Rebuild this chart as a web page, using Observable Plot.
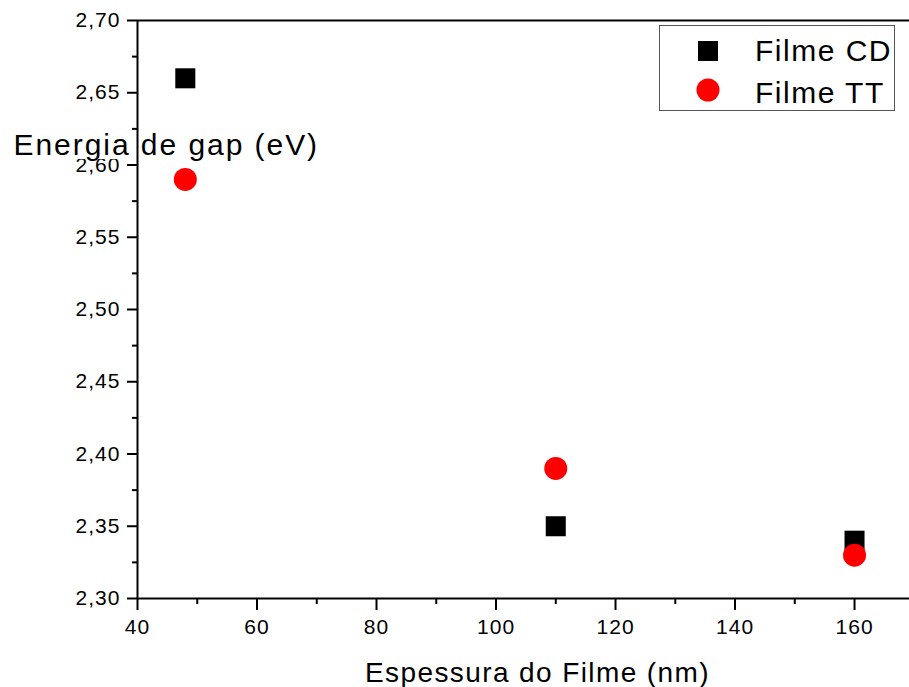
<!DOCTYPE html>
<html>
<head>
<meta charset="utf-8">
<script src="https://cdn.jsdelivr.net/npm/d3@7"></script>
<script src="https://cdn.jsdelivr.net/npm/@observablehq/plot@0.6"></script>
<style>
  html, body { margin: 0; padding: 0; background: #fff; overflow: hidden; }
  #wrap { position: relative; width: 909px; height: 687px; font-family: "Liberation Sans", Arial, sans-serif; }
  #wrap svg text { letter-spacing: 0.05em; }
  #wrap svg g.ylab text { letter-spacing: 0.065em; }
  #legend { position: absolute; left: 659px; top: 25px; width: 234px; height: 84px; border: 1px solid #555; background: #fff; }
  #legend .sym { position: absolute; }
  #legend .lab { position: absolute; left: 95px; font-size: 30px; letter-spacing: 0.05em; color: #000; line-height: 30px; }
</style>
</head>
<body>
<div id="wrap"></div>
<script>
// Data
const thickness = [48, 110, 160];              // Espessura do Filme (nm)
const filmeCD = [2.66, 2.35, 2.34];            // Energia de gap (eV)
const filmeTT = [2.59, 2.39, 2.33];
const seriesNames = ["Filme CD", "Filme TT"];
const xTicks = [40, 60, 80, 100, 120, 140, 160];
const xMinorTicks = [50, 70, 90, 110, 130, 150];
const yTicks = [2.30, 2.35, 2.40, 2.45, 2.50, 2.55, 2.60, 2.65, 2.70];
const yMinorTicks = [2.325, 2.375, 2.425, 2.475, 2.525, 2.575, 2.625, 2.675];
const xLabel = "Espessura do Filme (nm)";
const yLabel = "Energia de gap (eV)";

const cdData = thickness.map((x, i) => ({x, y: filmeCD[i]}));
const ttData = thickness.map((x, i) => ({x, y: filmeTT[i]}));
const fmt = d => d.toFixed(2).replace(".", ",");

const chart = Plot.plot({
  width: 909,
  height: 687,
  marginLeft: 137,
  marginRight: 0,
  marginTop: 20,
  marginBottom: 89,
  style: {fontFamily: "'Liberation Sans', Arial, sans-serif", color: "#000", background: "#fff", overflow: "visible"},
  x: {domain: [40, 169.2]},
  y: {domain: [2.30, 2.70]},
  marks: [
    Plot.axisX({ticks: xMinorTicks, tickSize: 6, strokeWidth: 2, tickFormat: () => "", label: null}),
    Plot.axisX({ticks: xTicks, tickSize: 12, tickPadding: 9, strokeWidth: 2, fontSize: 21, tickFormat: d => String(d), label: null}),
    Plot.axisY({ticks: yMinorTicks, tickSize: 5, strokeWidth: 2, tickFormat: () => "", label: null}),
    Plot.axisY({ticks: yTicks, tickSize: 10, tickPadding: 7, strokeWidth: 2, fontSize: 21, tickFormat: fmt, label: null}),
    Plot.ruleY([2.30], {stroke: "#000", strokeWidth: 2}),
    Plot.ruleY([2.70], {stroke: "#000", strokeWidth: 2}),
    Plot.ruleX([40], {stroke: "#000", strokeWidth: 2, className: "leftaxis"}),
    Plot.dot(cdData, {x: "x", y: "y", symbol: "square", r: 11.3, fill: "#000", stroke: null}),
    Plot.dot(ttData, {x: "x", y: "y", symbol: "circle", r: 11.5, fill: "#ff0000", stroke: null}),
    Plot.text([yLabel], {text: d => d, frameAnchor: "top-left", textAnchor: "start", lineAnchor: "middle", dx: -124, dy: 125, fontSize: 30, fill: "#000", className: "ylab"}),
    Plot.text([xLabel], {text: d => d, frameAnchor: "bottom", textAnchor: "middle", lineAnchor: "middle", dx: 14, dy: 75, fontSize: 28, fill: "#000"})
  ]
});

const wrap = document.getElementById("wrap");
wrap.appendChild(chart);

// White box behind the y label (hides the tick label beneath), with the left axis line kept on top of it
const ylabG = chart.querySelector("g.ylab");
const leftAxis = chart.querySelector("g.leftaxis");
if (ylabG) {
  const bb = ylabG.getBBox();
  const rect = document.createElementNS("http://www.w3.org/2000/svg", "rect");
  rect.setAttribute("x", bb.x - 2);
  rect.setAttribute("y", bb.y + 4);
  rect.setAttribute("width", bb.width + 4);
  rect.setAttribute("height", Math.max(0, bb.height - 6));
  rect.setAttribute("fill", "#fff");
  const tr = ylabG.getAttribute("transform");
  if (tr) rect.setAttribute("transform", tr);
  ylabG.parentNode.insertBefore(rect, ylabG);
  if (leftAxis) ylabG.parentNode.insertBefore(leftAxis, ylabG);
}

// Legend (HTML overlay)
const legend = document.createElement("div");
legend.id = "legend";
const symbols = [
  `<svg class="sym" style="left:37px;top:14px" width="22" height="22"><rect x="1" y="1" width="20" height="20" fill="#000"/></svg>`,
  `<svg class="sym" style="left:36px;top:52px" width="24" height="24"><circle cx="12" cy="12" r="11.5" fill="#ff0000"/></svg>`
];
seriesNames.forEach((name, i) => {
  legend.insertAdjacentHTML("beforeend", symbols[i]);
  const lab = document.createElement("div");
  lab.className = "lab";
  lab.style.top = (i === 0 ? 10 : 52) + "px";
  lab.textContent = name;
  legend.appendChild(lab);
});
wrap.appendChild(legend);
</script>
</body>
</html>
